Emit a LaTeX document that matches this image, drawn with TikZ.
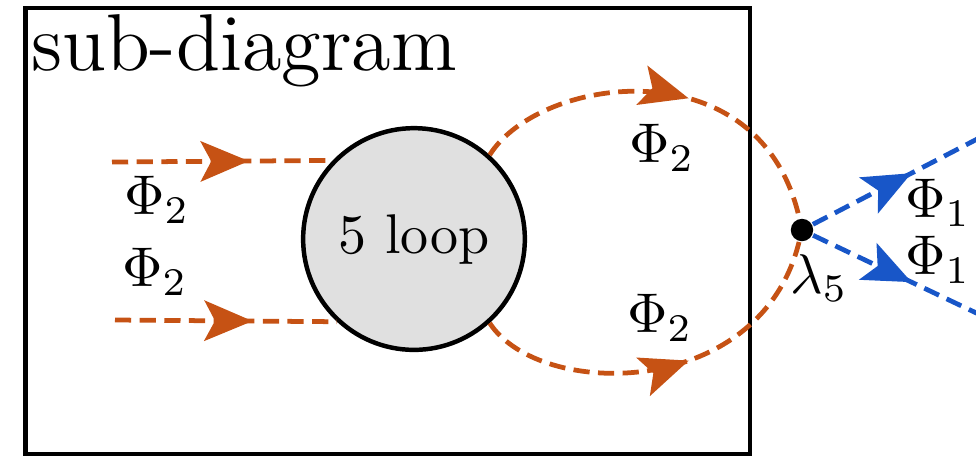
\documentclass[tikz,border=0pt]{standalone}
\usepackage{amsmath, amssymb}
\usepackage{tikz}
\usetikzlibrary{arrows.meta, decorations.markings}
\definecolor{PhiOrange}{RGB}{198, 82, 20}
\definecolor{PhiBlue}{RGB}{24, 86, 200}
\definecolor{BlobGray}{RGB}{224, 224, 224}

\begin{document}
\begin{tikzpicture}[x=0.1786pt, y=-0.1786pt,
    scalar/.style={dash pattern=on 2.9pt off 1.5pt, line width=0.85pt},
    fwd/.style={postaction={decorate}, decoration={markings,
        mark=at position #1 with {\arrow{Stealth[length=8.6pt, width=7.2pt, inset=1.9pt]}}}},
    blob/.style={circle, draw, line width=0.8pt, fill=BlobGray, minimum size=39.6pt, inner sep=0pt},
    vertex/.style={circle, fill=black, minimum size=4pt, inner sep=0pt}]
    \useasboundingbox (0,0) rectangle (976,457);
    \clip (0,0) rectangle (976,457);

    % Frame of the sub-diagram
    \draw[line width=0.85pt] (25.5,8) rectangle (750,454);
    \node[anchor=base west, font=\Large, inner sep=0pt] (title) at (30,70) {sub-diagram};

    % Blob and vertex
    \node[blob] (loop) at (414,239) {5 loop};
    \node[vertex] (v) at (802,230) {};
    \coordinate (phiinA) at (112,162);
    \coordinate (phiinB) at (115,320);
    \coordinate (phioutA) at (1010,122);
    \coordinate (phioutB) at (1010,329);

    % Incoming Phi_2 lines
    \draw[scalar, PhiOrange, fwd=0.62] (phiinA) -- (loop.136.8);
    \draw[scalar, PhiOrange, fwd=0.62] (phiinB) -- (loop.227.6);

    % Phi_2 pair into the vertex
    \draw[scalar, PhiOrange, fwd=0.56] (loop.48.5) .. controls (540,75) and (760,45) .. (v);
    \draw[scalar, PhiOrange, fwd=0.56] (loop.-48) .. controls (540,400) and (760,400) .. (v);

    % Outgoing Phi_1 lines
    \draw[scalar, PhiBlue, fwd=0.5] (v) -- (phioutA);
    \draw[scalar, PhiBlue, fwd=0.5] (v) -- (phioutB);

    % Labels
    \node (lblinA) at (157,200) {$\Phi_2$};
    \node (lblinB) at (155,272) {$\Phi_2$};
    \node (lblarcA) at (662,148) {$\Phi_2$};
    \node (lblarcB) at (660,318) {$\Phi_2$};
    \node (lblvertex) at (819,278) {$\lambda_5$};
    \node (lbloutA) at (938,203) {$\Phi_1$};
    \node (lbloutB) at (938,260) {$\Phi_1$};
\end{tikzpicture}
\end{document}
